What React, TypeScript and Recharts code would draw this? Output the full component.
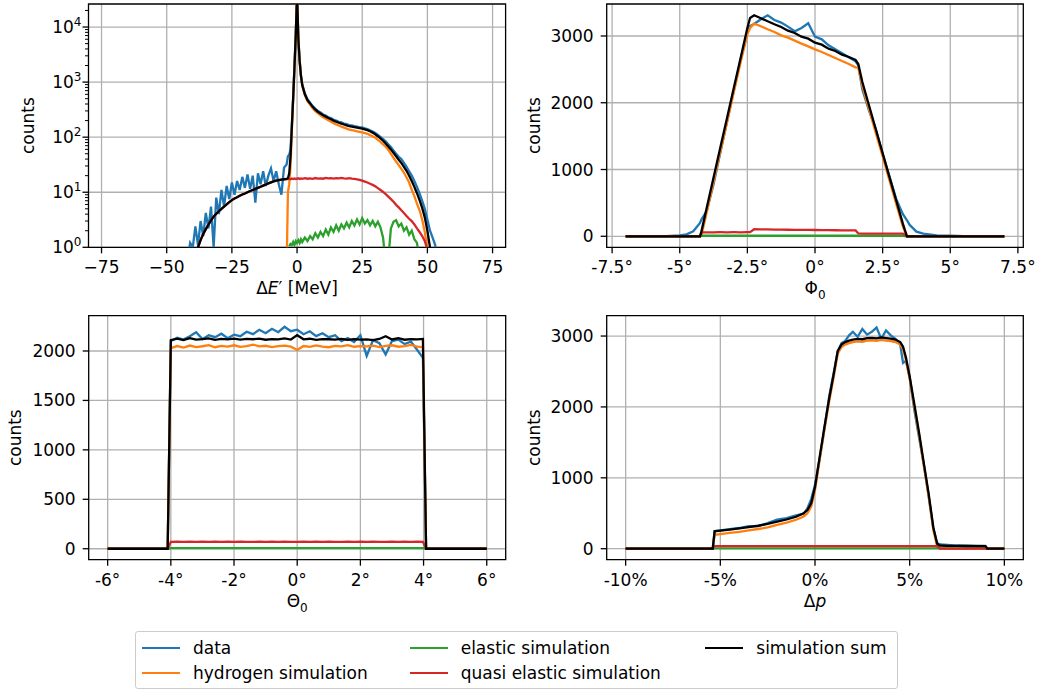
import React from "react";
import { CartesianGrid, Line, LineChart, ReferenceArea, XAxis, YAxis } from "recharts";

// ---------- ΔE' panel (log scale) ----------
const eX = [
  -44, -43, -42, -41, -40, -39, -38, -37, -36, -35,
  -34, -33, -32, -31, -30, -29, -28, -27, -26, -25,
  -24, -23, -22, -21, -20, -19, -18, -17, -16, -15,
  -14, -13, -12, -11, -10, -9, -8, -7, -6, -5,
  -4, -3.5, -3, -2.5, -2, -1.5, -1, -0.5, 0, 0.5,
  1, 1.5, 2, 3, 4, 5, 6, 7, 8, 9,
  10, 11, 12, 13, 14, 15, 16, 17, 18, 19,
  20, 21, 22, 23, 24, 25, 26, 27, 28, 29,
  30, 31, 32, 33, 34, 35, 36, 37, 38, 39,
  40, 41, 42, 43, 44, 45, 46, 47, 48, 49,
  50, 51, 52, 53, 54,
];
const eData = [
  null, null, 0.6, 1.2, 1.0, 2.4, 1.1, 3.0, 1.6, 4.2,
  2.2, 5.5, 1.0, 8.0, 4.0, 11, 5.5, 13, 7.5, 15,
  9, 16, 11, 19, 12, 21, 11.5, 20, 6.5, 22,
  14, 24, 13, 20, 27, 16, 24, 14, 9, 28,
  32, 45, 48, 60, 170, 520, 1900, 7200, 40000, 6200,
  2450, 1330, 900, 620, 490, 425, 365, 330, 300, 282,
  258, 247, 230, 222, 207, 201, 190, 186, 176, 172,
  165, 163, 158, 156, 151, 150, 144, 140, 133, 127,
  119, 110, 101, 92, 84, 74, 66, 57, 50, 44,
  40, 34, 29, 24, 20, 16, 12.5, 9.5, 7, 5,
  3.2, 2.0, 1.5, 1.1, 0.4,
];
const eHydrogen = [
  null, null, null, null, null, null, null, null, null, null,
  null, null, null, null, null, null, null, null, null, null,
  null, null, null, null, null, null, null, null, null, null,
  null, null, null, null, null, null, null, null, null, null,
  0.4, 10, 14, 30, 130, 480, 1780, 6980, 39980, 5980,
  2380, 1280, 861, 581, 451, 391, 336, 296, 271, 248,
  230, 216, 203, 191, 180, 171, 163, 155, 149, 143,
  137, 134, 131, 128, 125, 122, 119, 115, 109, 104,
  98, 89, 82, 74, 67, 59, 50, 42, 36, 31,
  26.6, 22.8, 18.5, 15, 11, 8.5, 6.2, 4.7, 3.2, 1.9,
  0.9, 0.3, null, null, null,
];
const eElastic = [
  null, null, null, null, null, null, null, null, null, null,
  null, null, null, null, null, null, null, null, null, null,
  null, null, null, null, null, null, null, null, null, null,
  null, null, null, null, null, null, null, null, null, null,
  null, null, 1.05, 1.15, 1.1, 1.25, 1.1, 1.3, 1.2, 1.35,
  1.2, 1.4, 1.25, 1.5, 1.3, 1.6, 1.4, 1.8, 1.5, 1.9,
  1.6, 2.1, 1.7, 2.3, 1.9, 2.5, 2.0, 2.6, 2.2, 2.8,
  2.3, 3.0, 2.5, 3.2, 2.6, 3.4, 2.7, 3.1, 2.5, 3.0,
  2.4, 2.9, 2.3, 1.5, 0.5, 0.6, 2.2, 2.9, 3.1, 2.4,
  2.7, 2.0, 2.3, 1.7, 2.0, 1.4, 1.2, 0.6, null, null,
  null, null, null, null, null,
];
const eQuasi = [
  null, null, null, null, null, 0.5, 1.0, 1.35, 1.74, 2.14,
  2.57, 3.09, 3.6, 4.07, 4.52, 5.0, 5.5, 6.0, 6.6, 7.2,
  7.7, 8.1, 8.6, 9.1, 9.5, 10.0, 10.5, 11.0, 11.5, 12.0,
  12.6, 13.2, 13.8, 14.5, 15.1, 15.7, 16.2, 16.6, 17.0, 17.2,
  17.4, 17.3, 17.6, 17.2, 17.7, 17.4, 17.8, 17.3, 17.6, 17.9,
  17.4, 17.8, 17.5, 18.0, 17.6, 17.9, 17.5, 18.1, 17.7, 17.9,
  17.6, 18.2, 17.8, 18.0, 17.7, 18.1, 17.8, 18.2, 17.9, 17.7,
  18.0, 17.6, 17.5, 17.2, 16.8, 16.2, 15.6, 15.0, 14.3, 13.6,
  12.8, 11.9, 11.0, 10.1, 9.2, 8.3, 7.5, 6.7, 5.9, 5.3,
  4.7, 4.2, 3.7, 3.3, 3.0, 2.6, 2.2, 1.9, 1.6, 1.3,
  0.9, 0.4, null, null, null,
];
const eSum = [
  null, null, null, null, null, 0.5, 1.0, 1.35, 1.74, 2.14,
  2.57, 3.09, 3.6, 4.07, 4.52, 5.0, 5.5, 6.0, 6.6, 7.2,
  7.7, 8.1, 8.6, 9.1, 9.5, 10.0, 10.5, 11.0, 11.5, 12.0,
  12.6, 13.2, 13.8, 14.5, 15.1, 15.7, 16.2, 16.6, 17.0, 17.2,
  17.4, 18, 22, 45, 150, 500, 1800, 7000, 40000, 6000,
  2400, 1300, 880, 600, 470, 410, 355, 315, 290, 268,
  250, 236, 223, 211, 200, 191, 183, 176, 170, 164,
  158, 155, 152, 149, 146, 143, 139, 134, 128, 121,
  113, 104, 95, 86, 77, 68, 60, 52, 45, 39,
  34, 29, 24.5, 20, 16, 12.5, 9.6, 7.2, 5.2, 3.5,
  2.0, 1.0, 0.4, null, null,
];

// ---------- Φ0 panel ----------
const phiX = [
  -7, -6.5, -6, -5.5, -5, -4.75, -4.5, -4.25, -4.2, -4,
  -3.75, -3.5, -3.25, -3, -2.75, -2.5, -2.4, -2.25, -2, -1.75,
  -1.5, -1.25, -1, -0.75, -0.5, -0.25, 0, 0.25, 0.5, 0.75,
  1, 1.25, 1.5, 1.6, 1.75, 2, 2.25, 2.5, 2.75, 3,
  3.25, 3.4, 3.5, 3.75, 4, 4.5, 5, 5.5, 6, 7,
];
const phiData = [
  0, 0, 0, 3, 15, 30, 75, 200, 250, 380,
  780, 1250, 1720, 2190, 2640, 3050, 3150, 3180, 3250, 3310,
  3240, 3200, 3140, 3070, 3120, 3190, 2990, 2950, 2860, 2800,
  2740, 2680, 2620, 2560, 2200, 1880, 1600, 1230, 900, 560,
  330, 240, 170, 70, 40, 15, 8, 2, 0, 0,
];
const phiHydrogen = [
  0, 0, 0, 0, 0, 0, 0, 0, 10, 365,
  815, 1265, 1710, 2160, 2605, 3030, 3120, 3185, 3145, 3100,
  3060, 3010, 2975, 2930, 2885, 2845, 2800, 2760, 2715, 2670,
  2625, 2580, 2530, 2525, 2250, 1900, 1545, 1195, 840, 490,
  140, 0, 0, 0, 0, 0, 0, 0, 0, 0,
];
const phiElastic = [
  0, 0, 0, 0, 0, 0, 0, 0, 8, 8,
  8, 8, 8, 8, 8, 8, 8, 8, 8, 8,
  8, 8, 8, 8, 8, 8, 8, 8, 8, 8,
  8, 8, 8, 8, 8, 8, 8, 8, 8, 8,
  8, 0, 0, 0, 0, 0, 0, 0, 0, 0,
];
const phiQuasi = [
  0, 0, 0, 0, 0, 0, 0, 0, 60, 60,
  60, 61, 60, 61, 60, 62, 62, 105, 103, 102,
  100, 99, 98, 97, 96, 95, 94, 93, 92, 90,
  89, 88, 87, 42, 41, 41, 40, 40, 40, 40,
  40, 0, 0, 0, 0, 0, 0, 0, 0, 0,
];
const phiSum = [
  0, 0, 0, 0, 0, 0, 0, 0, 70, 430,
  880, 1330, 1775, 2225, 2670, 3120, 3270, 3310, 3265, 3220,
  3175, 3135, 3080, 3045, 2990, 2960, 2900, 2870, 2810, 2775,
  2720, 2685, 2640, 2580, 2310, 1955, 1600, 1245, 890, 540,
  185, 0, 0, 0, 0, 0, 0, 0, 0, 0,
];

// ---------- Θ0 panel ----------
const thetaX = [
  -6, -5, -4.1, -4,
  -3.8, -3.6, -3.4, -3.2, -3, -2.8, -2.6, -2.4, -2.2, -2,
  -1.8, -1.6, -1.4, -1.2, -1, -0.8, -0.6, -0.4, -0.2, 0,
  0.2, 0.4, 0.6, 0.8, 1, 1.2, 1.4, 1.6, 1.8, 2,
  2.2, 2.4, 2.6, 2.8, 3, 3.2, 3.4, 3.6, 3.8, 3.98,
  4.08, 5, 6,
];
const thetaData = [
  0, 0, 0, 2100,
  2135, 2115, 2150, 2190, 2120, 2160, 2140, 2175, 2130, 2165,
  2150, 2195, 2170, 2215, 2180, 2225, 2190, 2245, 2200, 2215,
  2170, 2200, 2150, 2180, 2140, 2160, 2100, 2130, 2090, 2160,
  1950, 2110, 2080, 1965, 2100, 2115, 2070, 2095, 2010, 1930,
  0, 0, 0,
];
const thetaHydrogen = [
  0, 0, 0, 2030,
  2050, 2035, 2055, 2040, 2048, 2060, 2038, 2052, 2045, 2058,
  2042, 2050, 2065, 2047, 2053, 2040, 2049, 2055, 2044, 2010,
  2050, 2042, 2056, 2045, 2038, 2052, 2047, 2060, 2043, 2050,
  2046, 2055, 2040, 2052, 2058, 2043, 2050, 2062, 2045, 2040,
  0, 0, 0,
];
const thetaElastic = [
  0, 0, 0, 6,
  6, 6, 6, 6, 6, 6, 6, 6, 6, 6,
  6, 6, 6, 6, 6, 6, 6, 6, 6, 6,
  6, 6, 6, 6, 6, 6, 6, 6, 6, 6,
  6, 6, 6, 6, 6, 6, 6, 6, 6, 6,
  0, 0, 0,
];
const thetaQuasi = [
  0, 0, 0, 70,
  71, 70, 72, 70, 71, 69, 71, 70, 72, 70,
  71, 70, 69, 71, 70, 72, 70, 71, 70, 69,
  71, 70, 72, 70, 71, 70, 69, 71, 70, 72,
  70, 71, 70, 69, 71, 70, 72, 70, 71, 70,
  0, 0, 0,
];
const thetaSum = [
  0, 0, 0, 2110,
  2125, 2110, 2130, 2115, 2120, 2128, 2112, 2122, 2118, 2125,
  2115, 2123, 2119, 2126, 2114, 2121, 2117, 2128, 2116, 2160,
  2118, 2124, 2113, 2121, 2119, 2116, 2123, 2112, 2120, 2115,
  2118, 2110, 2122, 2150, 2117, 2130, 2114, 2121, 2118, 2122,
  0, 0, 0,
];

// ---------- Δp panel ----------
const dpX = [
  -10, -8, -6, -5.4, -5.3, -5, -4.5, -4, -3.5, -3,
  -2.5, -2, -1.5, -1, -0.6, -0.4, -0.2, 0, 0.25, 0.5,
  0.75, 1, 1.2, 1.4, 1.6, 1.8, 2, 2.25, 2.5, 2.75,
  3, 3.25, 3.5, 3.75, 4, 4.25, 4.5, 4.65, 4.8, 5,
  5.25, 5.5, 5.75, 6, 6.25, 6.45, 6.6, 7, 7.5, 8,
  8.5, 9, 9.1, 10,
];
const dpData = [
  0, 0, 0, 0, 250, 258, 275, 292, 318, 320,
  360, 410, 432, 470, 495, 570, 700, 900, 1280, 1700,
  2150, 2500, 2780, 2900, 2930, 3010, 3060, 2990, 3100, 3020,
  3060, 3120, 2960, 3080, 3010, 2960, 2880, 2620, 2650, 2420,
  1950, 1560, 1180, 740, 280, 80, 60, 55, 45, 42,
  35, 38, 0, 0,
];
const dpHydrogen = [
  0, 0, 0, 0, 195, 205, 222, 238, 258, 278,
  300, 335, 368, 408, 455, 500, 595, 825, 1260, 1680,
  2080, 2440, 2750, 2845, 2880, 2900, 2915, 2925, 2920, 2935,
  2940, 2932, 2945, 2936, 2930, 2915, 2880, 2815, 2665, 2395,
  1995, 1595, 1165, 745, 265, 30, 0, 0, 0, 0,
  0, 0, 0, 0,
];
const dpElastic = [
  0, 0, 0, 0, 5, 5, 5, 5, 5, 5,
  5, 5, 5, 5, 5, 5, 5, 5, 5, 5,
  5, 5, 5, 5, 5, 5, 5, 5, 5, 5,
  5, 5, 5, 5, 5, 5, 5, 5, 5, 5,
  5, 5, 5, 5, 5, 5, 5, 5, 5, 5,
  5, 5, 0, 0,
];
const dpQuasi = [
  0, 0, 0, 0, 36, 36, 37, 36, 37, 36,
  37, 36, 37, 36, 37, 36, 37, 36, 37, 36,
  37, 36, 37, 36, 37, 36, 37, 36, 37, 36,
  37, 36, 37, 36, 37, 36, 37, 36, 37, 36,
  37, 36, 37, 36, 37, 36, 0, 0, 0, 0,
  0, 0, 0, 0,
];
const dpSum = [
  0, 0, 0, 0, 245, 255, 270, 287, 305, 324,
  350, 381, 412, 451, 500, 545, 640, 870, 1300, 1720,
  2120, 2480, 2790, 2880, 2915, 2935, 2950, 2960, 2955, 2970,
  2975, 2968, 2980, 2972, 2965, 2950, 2915, 2850, 2700, 2430,
  2030, 1630, 1200, 780, 300, 70, 45, 40, 39, 38,
  38, 36, 0, 0,
];

// ---------- ticks ----------
const eTicks = [-75, -50, -25, 0, 25, 50, 75];
const phiTicks = [-7.5, -5, -2.5, 0, 2.5, 5, 7.5];
const thetaTicks = [-6, -4, -2, 0, 2, 4, 6];
const dpTicks = [-10, -5, 0, 5, 10];
const logMajor = [1, 10, 100, 1000, 10000];
const logTicks = [
  1, 2, 3, 4, 5, 6, 7, 8, 9,
  10, 20, 30, 40, 50, 60, 70, 80, 90,
  100, 200, 300, 400, 500, 600, 700, 800, 900,
  1000, 2000, 3000, 4000, 5000, 6000, 7000, 8000, 9000,
  10000, 20000,
];
const phiYTicks = [0, 1000, 2000, 3000];
const thetaYTicks = [0, 500, 1000, 1500, 2000];
const dpYTicks = [0, 1000, 2000, 3000];

const SERIES = [
  { key: "data", name: "data", color: "#1f77b4" },
  { key: "hydrogen", name: "hydrogen simulation", color: "#ff7f0e" },
  { key: "elastic", name: "elastic simulation", color: "#2ca02c" },
  { key: "quasi", name: "quasi elastic simulation", color: "#d62728" },
  { key: "sum", name: "simulation sum", color: "#000000" },
];

type Row = Record<string, number | null>;

function buildRows(x: number[], cols: Record<string, (number | null)[]>): Row[] {
  return x.map((v, i) => {
    const row: Row = { x: v };
    for (const k of Object.keys(cols)) row[k] = cols[k][i] ?? null;
    return row;
  });
}

const eRows = buildRows(eX, { data: eData, hydrogen: eHydrogen, elastic: eElastic, quasi: eQuasi, sum: eSum });
const phiRows = buildRows(phiX, { data: phiData, hydrogen: phiHydrogen, elastic: phiElastic, quasi: phiQuasi, sum: phiSum });
const thetaRows = buildRows(thetaX, { data: thetaData, hydrogen: thetaHydrogen, elastic: thetaElastic, quasi: thetaQuasi, sum: thetaSum });
const dpRows = buildRows(dpX, { data: dpData, hydrogen: dpHydrogen, elastic: dpElastic, quasi: dpQuasi, sum: dpSum });

const FONT = 17;
const tickStyle = { fontSize: FONT, fill: "#000" };

function LogTick(props: any) {
  const { x, y, payload } = props;
  const v = payload.value as number;
  const exp = Math.round(Math.log10(v));
  const major = Math.abs(v - Math.pow(10, exp)) < 1e-6;
  return (
    <g>
      <line x1={x - (major ? 6 : 3.5)} x2={x} y1={y} y2={y} stroke="#000" strokeWidth={major ? 1.3 : 1} />
      {major ? (
        <text x={x - 7} y={y + 6} textAnchor="end" fontSize={FONT} fill="#000">
          10
          <tspan dy={-7} fontSize={12}>
            {exp}
          </tspan>
        </text>
      ) : null}
    </g>
  );
}

const xTitle = (content: React.ReactNode) => (props: any) => {
  const vb = props.viewBox || { x: 0, y: 0, width: 0 };
  return (
    <text x={vb.x + vb.width / 2} y={vb.y + 47} textAnchor="middle" fontSize={FONT} fill="#000">
      {content}
    </text>
  );
};

interface PanelProps {
  left: number;
  top: number;
  width: number;
  height: number;
  marginTop: number;
  marginRight: number;
  axisWidth: number;
  axisHeight: number;
  rows: Row[];
  xDomain: [number, number];
  xTicks: number[];
  formatX: (v: number) => string;
  yDomain: [number, number];
  yTicks: number[];
  log?: boolean;
  title: React.ReactNode;
  yTitleOffset: number;
}

function Panel(p: PanelProps) {
  return (
    <div style={{ position: "absolute", left: p.left, top: p.top }}>
      <LineChart
        width={p.width}
        height={p.height}
        data={p.rows}
        margin={{ top: p.marginTop, right: p.marginRight, bottom: 0, left: 0 }}
      >
        <CartesianGrid
          stroke="#b0b0b0"
          strokeWidth={1.3}
          horizontalValues={p.log ? logMajor : p.yTicks}
          verticalValues={p.xTicks}
        />
        <XAxis
          dataKey="x"
          type="number"
          domain={p.xDomain}
          ticks={p.xTicks}
          interval={0}
          allowDataOverflow
          tickFormatter={p.formatX}
          height={p.axisHeight}
          tickSize={6}
          tickMargin={8}
          axisLine={false}
          tickLine={{ stroke: "#000", strokeWidth: 1.3 }}
          tick={tickStyle}
          label={xTitle(p.title)}
        />
        {p.log ? (
          <YAxis
            type="number"
            scale="log"
            domain={p.yDomain}
            ticks={logTicks}
            interval={0}
            allowDataOverflow
            width={p.axisWidth}
            axisLine={false}
            tickLine={false}
            tickSize={0}
            tickMargin={0}
            tick={<LogTick />}
            label={{
              value: "counts",
              angle: -90,
              position: "insideLeft",
              offset: p.yTitleOffset,
              style: { textAnchor: "middle", fontSize: FONT, fill: "#000" },
            }}
          />
        ) : (
          <YAxis
            type="number"
            domain={p.yDomain}
            ticks={p.yTicks}
            interval={0}
            allowDataOverflow
            width={p.axisWidth}
            axisLine={false}
            tickSize={6}
            tickMargin={7}
            tickLine={{ stroke: "#000", strokeWidth: 1.3 }}
            tick={tickStyle}
            label={{
              value: "counts",
              angle: -90,
              position: "insideLeft",
              offset: p.yTitleOffset,
              style: { textAnchor: "middle", fontSize: FONT, fill: "#000" },
            }}
          />
        )}
        {SERIES.map((s) => (
          <Line
            key={s.key}
            type="linear"
            dataKey={s.key}
            stroke={s.color}
            strokeWidth={2.3}
            dot={false}
            activeDot={false}
            connectNulls={false}
            isAnimationActive={false}
          />
        ))}
        <ReferenceArea
          x1={p.xDomain[0]}
          x2={p.xDomain[1]}
          y1={p.yDomain[0]}
          y2={p.yDomain[1]}
          fill="none"
          stroke="#000"
          strokeWidth={1.3}
          ifOverflow="visible"
        />
      </LineChart>
    </div>
  );
}

function Legend() {
  return (
    <div
      style={{
        position: "absolute",
        left: 135,
        top: 631,
        width: 763,
        height: 58,
        boxSizing: "border-box",
        border: "1px solid #cccccc",
        borderRadius: 3,
        background: "#fff",
        display: "grid",
        gridTemplateColumns: "267.7px 295.6px auto",
        gridTemplateRows: "25px 25px",
        gridAutoFlow: "column",
        padding: "3px 0 0 6px",
        fontSize: FONT,
        color: "#000",
      }}
    >
      {SERIES.map((s) => (
        <div key={s.key} style={{ display: "flex", alignItems: "center", whiteSpace: "nowrap" }}>
          <span style={{ width: 38, height: 0, borderTop: `2.3px solid ${s.color}`, marginRight: 13 }} />
          <span>{s.name}</span>
        </div>
      ))}
    </div>
  );
}

export default function App() {
  return (
    <div
      style={{
        position: "absolute",
        left: 0,
        top: 0,
        width: 1043,
        height: 693,
        background: "#fff",
        fontFamily: "'DejaVu Sans', sans-serif",
      }}
    >
      <Panel
        left={0}
        top={0}
        width={520}
        height={305}
        marginTop={4}
        marginRight={14.4}
        axisWidth={88.5}
        axisHeight={57.7}
        rows={eRows}
        xDomain={[-80, 80]}
        xTicks={eTicks}
        formatX={(v) => (v < 0 ? `\u2212${-v}` : `${v}`)}
        yDomain={[1, 26200]}
        yTicks={logMajor}
        log
        title={
          <>
            Δ<tspan fontStyle="italic">E</tspan>′ [MeV]
          </>
        }
        yTitleOffset={28}
      />
      <Panel
        left={520}
        top={0}
        width={523}
        height={305}
        marginTop={4}
        marginRight={19.7}
        axisWidth={86.7}
        axisHeight={57.7}
        rows={phiRows}
        xDomain={[-7.7, 7.7]}
        xTicks={phiTicks}
        formatX={(v) => `${v}°`}
        yDomain={[-165, 3479]}
        yTicks={phiYTicks}
        title={
          <>
            Φ<tspan dy={5} fontSize={12}>0</tspan>
          </>
        }
        yTitleOffset={14}
      />
      <Panel
        left={0}
        top={310}
        width={520}
        height={310}
        marginTop={5.7}
        marginRight={14.3}
        axisWidth={88.7}
        axisHeight={60.3}
        rows={thetaRows}
        xDomain={[-6.6, 6.6]}
        xTicks={thetaTicks}
        formatX={(v) => `${v}°`}
        yDomain={[-111, 2357]}
        yTicks={thetaYTicks}
        title={
          <>
            Θ<tspan dy={5} fontSize={12}>0</tspan>
          </>
        }
        yTitleOffset={15}
      />
      <Panel
        left={520}
        top={310}
        width={523}
        height={310}
        marginTop={5.7}
        marginRight={19.7}
        axisWidth={86.7}
        axisHeight={60.3}
        rows={dpRows}
        xDomain={[-11, 11]}
        xTicks={dpTicks}
        formatX={(v) => `${v}%`}
        yDomain={[-155, 3287]}
        yTicks={dpYTicks}
        title={
          <>
            Δ<tspan fontStyle="italic">p</tspan>
          </>
        }
        yTitleOffset={14}
      />
      <Legend />
    </div>
  );
}
